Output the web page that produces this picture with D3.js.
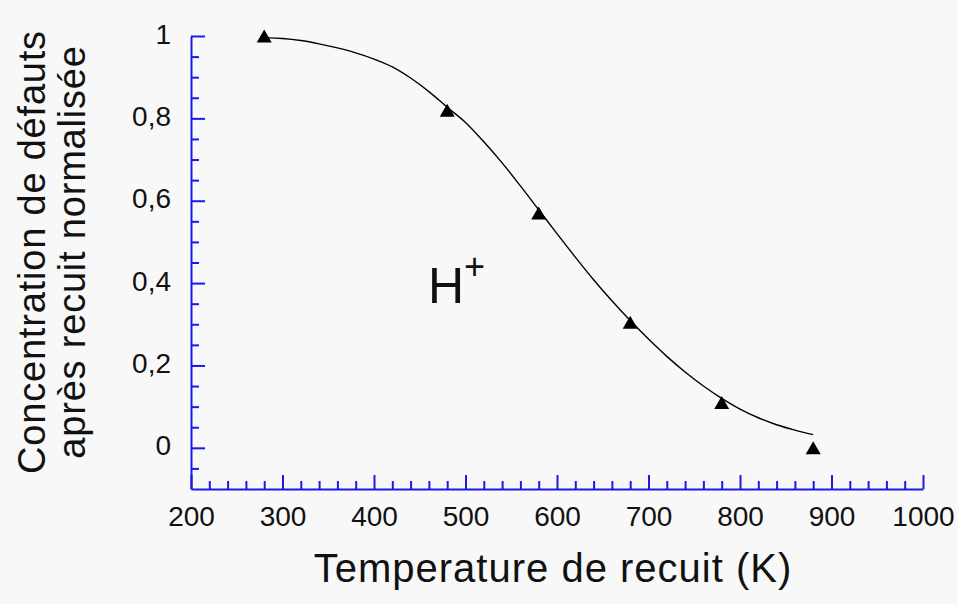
<!DOCTYPE html>
<html lang="fr">
  <head>
    <meta charset="UTF-8" />
    <title>Recuit H+</title>
    <style>
      body {
        margin: 0;
        background: #f8f8f8;
      }
      svg {
        display: block;
        font-family: "Liberation Sans", Arial, sans-serif;
      }
      .axis path,
      .axis line {
        stroke: #1a1ae6;
        stroke-width: 2px;
      }
      .axis text {
        fill: #111;
        font-family: "Liberation Sans", Arial, sans-serif;
        font-size: 28px;
      }
    </style>
  </head>

  <body>
    <script src="https://cdn.jsdelivr.net/npm/d3@7"></script>
    <script>
      /* global d3 */

      // measured points (triangles)
      const temps = [280, 480, 580, 680, 780, 880];
      const conc = [1.0, 0.82, 0.57, 0.305, 0.11, 0.0];

      // fitted curve
      const fitT = [280, 300, 320, 340, 360, 380, 400, 420, 440, 460, 480, 500, 520, 540, 560,
        580, 600, 620, 640, 660, 680, 700, 720, 740, 760, 780, 800, 820, 840, 860, 880];
      const fitC = [0.996, 0.994, 0.989, 0.981, 0.971, 0.959, 0.944, 0.925, 0.898, 0.865, 0.827,
        0.79, 0.743, 0.692, 0.636, 0.578, 0.52, 0.463, 0.408, 0.357, 0.309, 0.264, 0.222,
        0.184, 0.15, 0.12, 0.094, 0.073, 0.056, 0.043, 0.032];

      const xTicks = [200, 300, 400, 500, 600, 700, 800, 900, 1000];
      const yTicks = [0, 0.2, 0.4, 0.6, 0.8, 1];

      const width = 958,
        height = 604;

      const x = d3.scaleLinear().domain([200, 1000]).range([191, 923]);
      const y = d3.scaleLinear().domain([-0.1, 1]).range([489, 36]);

      const svg = d3
        .select("body")
        .append("svg")
        .attr("width", width)
        .attr("height", height);

      // x axis: minor ticks every 20, major every 100, pointing up
      const xMinor = d3.range(220, 1000, 20).filter(v => v % 100 !== 0);
      svg
        .append("g")
        .attr("class", "axis")
        .attr("transform", `translate(0,${y(-0.1)})`)
        .call(d3.axisBottom(x).tickValues(xMinor).tickSize(-8).tickSizeOuter(0).tickFormat(""));

      const gx = svg
        .append("g")
        .attr("class", "axis")
        .attr("transform", `translate(0,${y(-0.1)})`)
        .call(
          d3
            .axisBottom(x)
            .tickValues(xTicks)
            .tickSize(-14)
            .tickSizeOuter(0)
            .tickPadding(0)
            .tickFormat(d => String(d))
        );
      gx.selectAll("text").attr("y", 37).attr("dy", null);
      gx.selectAll(".domain").remove();

      // y axis: minor every 0.05, major every 0.2, pointing right
      const yMinor = d3.range(-0.05, 1, 0.05).filter(v => Math.abs(v * 5 - Math.round(v * 5)) > 1e-6);
      svg
        .append("g")
        .attr("class", "axis")
        .attr("transform", `translate(${x(200)},0)`)
        .call(d3.axisLeft(y).tickValues(yMinor).tickSize(-8).tickSizeOuter(0).tickFormat(""));

      const gy = svg
        .append("g")
        .attr("class", "axis")
        .attr("transform", `translate(${x(200)},0)`)
        .call(
          d3
            .axisLeft(y)
            .tickValues(yTicks)
            .tickSize(-14)
            .tickSizeOuter(0)
            .tickFormat(d => (d === 0 || d === 1 ? String(d) : d3.format(".1f")(d).replace(".", ",")))
        );
      gy.selectAll("text").attr("x", -20).attr("dy", "0.25em");
      gy.selectAll(".domain").remove();

      // fitted curve
      const line = d3
        .line()
        .x(d => x(d[0]))
        .y(d => y(d[1]))
        .curve(d3.curveMonotoneX);

      svg
        .append("path")
        .datum(fitT.map((t, i) => [t, fitC[i]]))
        .attr("d", line)
        .attr("fill", "none")
        .attr("stroke", "#000")
        .attr("stroke-width", 1.4);

      // triangles
      svg
        .selectAll(".pt")
        .data(temps.map((t, i) => [t, conc[i]]))
        .join("path")
        .attr("class", "pt")
        .attr("transform", d => `translate(${x(d[0])},${y(d[1])})`)
        .attr("d", "M0,-6.5L7.5,6.5L-7.5,6.5Z")
        .attr("fill", "#000");

      // H+ label
      const lab = svg
        .append("text")
        .attr("x", 428)
        .attr("y", 303)
        .attr("font-size", 50)
        .attr("fill", "#111");
      lab.append("tspan").text("H");
      lab.append("tspan").attr("font-size", 36).attr("dy", -24).attr("dx", 0).text("+");

      // axis titles
      svg
        .append("text")
        .attr("x", 553)
        .attr("y", 582)
        .attr("text-anchor", "middle")
        .attr("font-size", 40)
        .attr("letter-spacing", 1)
        .attr("fill", "#111")
        .text("Temperature de recuit (K)");

      const yt = svg
        .append("text")
        .attr("transform", "translate(0,252) rotate(-90)")
        .attr("text-anchor", "middle")
        .attr("font-size", 38)
        .attr("letter-spacing", 0.8)
        .attr("fill", "#111");
      yt.append("tspan").attr("x", 0).attr("y", 45).text("Concentration de défauts");
      yt.append("tspan").attr("x", 0).attr("y", 85).text("après recuit normalisée");
    </script>
  </body>
</html>
